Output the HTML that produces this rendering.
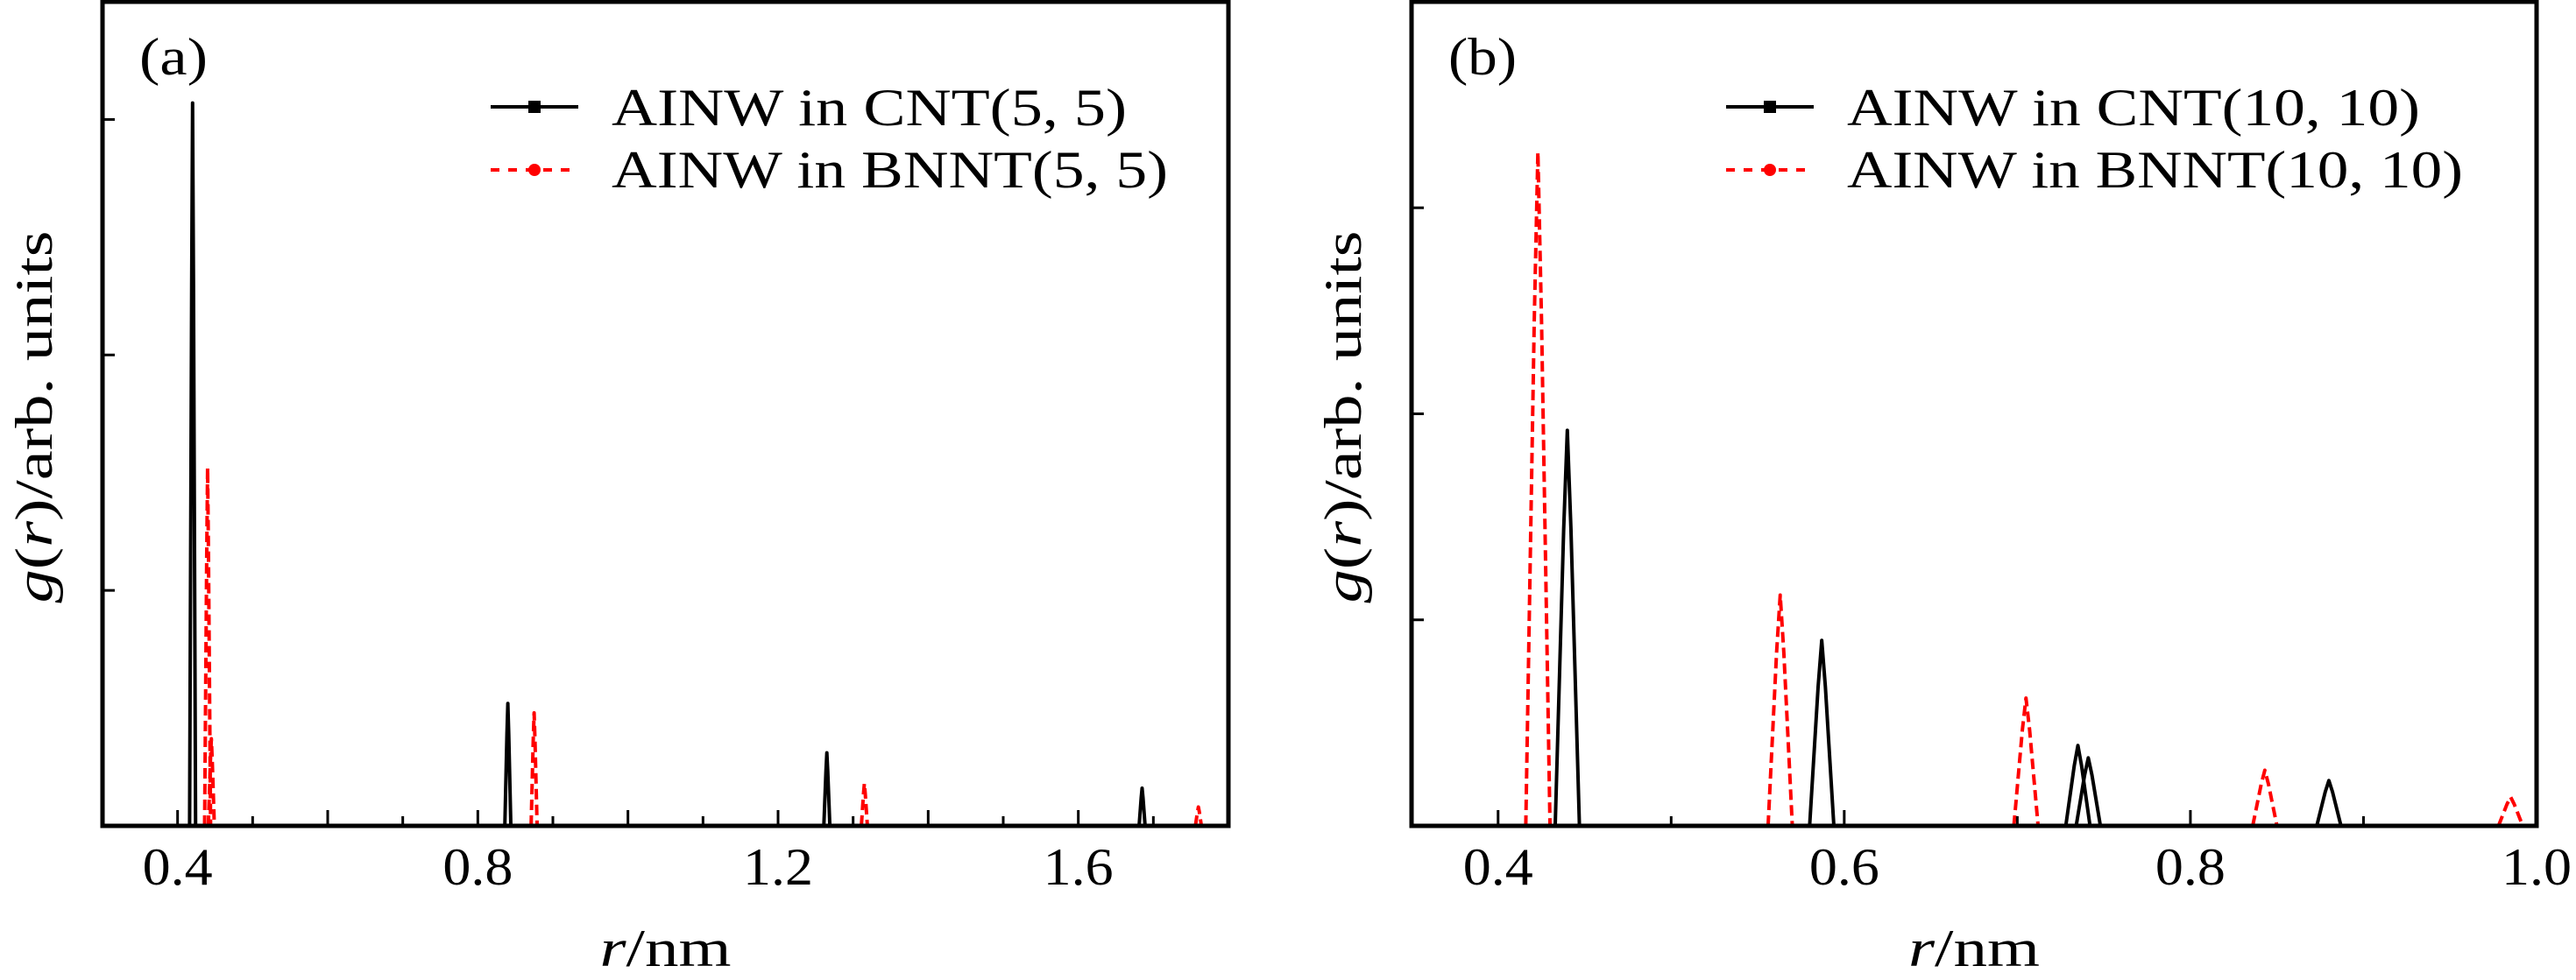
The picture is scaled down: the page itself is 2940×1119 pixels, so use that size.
<!DOCTYPE html>
<html><head><meta charset="utf-8"><style>
body{margin:0;background:#fff;}
svg{display:block;font-family:"Liberation Serif",serif;}
</style></head><body>
<svg id="chart" width="2940" height="1119" viewBox="0 0 2940 1119" xmlns="http://www.w3.org/2000/svg">
<rect width="2940" height="1119" fill="#fff"/>
</svg>
<script>
// Panel (a) data
const aTicks = [0.4, 0.8, 1.2, 1.6];
const aBlackCenters = [0.42, 0.84, 1.265, 1.685];
const aBlackHeights = [3.07, 0.52, 0.31, 0.16];
const aRedCenters = [0.44, 0.445, 0.875, 1.315, 1.76];
const aRedHeights = [1.52, 0.37, 0.48, 0.18, 0.08];
// Panel (b) data
const bTicks = [0.4, 0.6, 0.8, 1.0];
const bBlackCenters = [0.44, 0.587, 0.735, 0.741, 0.88];
const bBlackHeights = [1.92, 0.9, 0.39, 0.33, 0.22];
const bRedCenters = [0.423, 0.563, 0.705, 0.843, 0.985];
const bRedHeights = [3.27, 1.12, 0.62, 0.27, 0.14];

const NS = "http://www.w3.org/2000/svg";
const svg = document.getElementById('chart');
function mk(tag, attrs, parent) {
  const e = document.createElementNS(NS, tag);
  for (const k in attrs) e.setAttribute(k, attrs[k]);
  (parent || svg).appendChild(e);
  return e;
}

function panel(cfg) {
  const g = mk('g', {});
  
  
  const X = v => cfg.x0 + (v - cfg.xmin) / (cfg.xmax - cfg.xmin) * (cfg.x1 - cfg.x0);
  const Y = v => cfg.y1 - v / cfg.ymax * (cfg.y1 - cfg.y0);
  function series(centers, heights, hw, color, dash, name) {
    const s = mk('g', {}, g);
    
    
    mk('line', {x1: cfg.x0, x2: cfg.x1, y1: cfg.y1 - 1, y2: cfg.y1 - 1, stroke: color, 'stroke-width': 2}, s);
    centers.forEach((c, i) => {
      const p = mk('polyline', {points: `${X(c - hw)},${Y(0)} ${X(c - hw * 0.3)},${Y(heights[i] * 0.75)} ${X(c)},${Y(heights[i])} ${X(c + hw * 0.3)},${Y(heights[i] * 0.75)} ${X(c + hw)},${Y(0)}`,
        fill: 'none', stroke: color, 'stroke-width': 4, 'stroke-dasharray': dash || 'none', 'stroke-linejoin': 'round'}, s);
      
      
    });
  }
  series(cfg.blackC, cfg.blackH, cfg.hw, '#000', null, 'cnt-series');
  series(cfg.redC, cfg.redH, cfg.hw, '#f00', '12,6', 'bnnt-series');
  const fr = mk('rect', {x: cfg.x0, y: cfg.y0, width: cfg.x1 - cfg.x0, height: cfg.y1 - cfg.y0, fill: 'none', stroke: '#000', 'stroke-width': 5}, g);
  
  
  for (let k = Math.ceil(cfg.xmin * 10 - 1e-6); k <= Math.floor(cfg.xmax * 10 + 1e-6); k++) {
    const v = k / 10;
    const major = k % 2 === 0;
    const t = mk('line', {x1: X(v), x2: X(v), y1: cfg.y1, y2: cfg.y1 - (major ? 18 : 11), stroke: '#000', 'stroke-width': 3}, g);
    
    
  }
  cfg.ticks.forEach(v => {
    const t = mk('text', {x: X(v), y: 1010, 'font-size': 60, 'text-anchor': 'middle', textLength: 80, lengthAdjust: 'spacingAndGlyphs'}, g);
    t.textContent = v.toFixed(1);
    
    
  });
  for (let v = 1; v < cfg.ymax; v++) {
    const t = mk('line', {x1: cfg.x0, x2: cfg.x0 + 14, y1: Y(v), y2: Y(v), stroke: '#000', 'stroke-width': 3}, g);
    
    
  }
  const yt = mk('text', {x: 0, y: 0, 'font-size': 60, 'text-anchor': 'middle', textLength: 425, lengthAdjust: 'spacingAndGlyphs', transform: `translate(${cfg.x0 - 58},476) rotate(-90)`}, g);
  yt.innerHTML = '<tspan font-style="italic">g</tspan>(<tspan font-style="italic">r</tspan>)/arb. units';
  
  
  const xt = mk('text', {x: (cfg.x0 + cfg.x1) / 2, y: 1103, 'font-size': 60, 'text-anchor': 'middle', textLength: 150, lengthAdjust: 'spacingAndGlyphs'}, g);
  xt.innerHTML = '<tspan font-style="italic">r</tspan>/nm';
  
  
  const pl = mk('text', {x: cfg.x0 + 42, y: 85, 'font-size': 60, textLength: 78, lengthAdjust: 'spacingAndGlyphs'}, g);
  pl.textContent = cfg.label;
  
  
  const lg = mk('g', {}, g);
  
  
  const lx = cfg.legX;
  const e1 = mk('g', {}, lg);
  
  
  mk('line', {x1: lx, x2: lx + 100, y1: 122, y2: 122, stroke: '#000', 'stroke-width': 4}, e1);
  mk('rect', {x: lx + 43, y: 115, width: 14, height: 14, fill: '#000'}, e1);
  const t1 = mk('text', {x: lx + 138, y: 143, 'font-size': 60, textLength: cfg.len1, lengthAdjust: 'spacingAndGlyphs'}, e1);
  t1.textContent = cfg.leg1;
  const e2 = mk('g', {}, lg);
  
  
  mk('line', {x1: lx, x2: lx + 100, y1: 194, y2: 194, stroke: '#f00', 'stroke-width': 4, 'stroke-dasharray': '10,10'}, e2);
  mk('circle', {cx: lx + 50, cy: 194, r: 7, fill: '#f00'}, e2);
  const t2 = mk('text', {x: lx + 138, y: 214, 'font-size': 60, textLength: cfg.len2, lengthAdjust: 'spacingAndGlyphs'}, e2);
  t2.textContent = cfg.leg2;
}

panel({name: 'panel-a', x0: 117, x1: 1402, y0: 2, y1: 943, xmin: 0.3, xmax: 1.8, ymax: 3.5, hw: 0.004,
  ticks: aTicks, blackC: aBlackCenters, blackH: aBlackHeights, redC: aRedCenters, redH: aRedHeights,
  label: '(a)', legX: 560, leg1: 'AINW in CNT(5, 5)', leg2: 'AINW in BNNT(5, 5)', len1: 588, len2: 635});
panel({name: 'panel-b', x0: 1611, x1: 2895, y0: 2, y1: 943, xmin: 0.35, xmax: 1.0, ymax: 4, hw: 0.007,
  ticks: bTicks, blackC: bBlackCenters, blackH: bBlackHeights, redC: bRedCenters, redH: bRedHeights,
  label: '(b)', legX: 1970, leg1: 'AINW in CNT(10, 10)', leg2: 'AINW in BNNT(10, 10)', len1: 654, len2: 703});
</script>
</body></html>
